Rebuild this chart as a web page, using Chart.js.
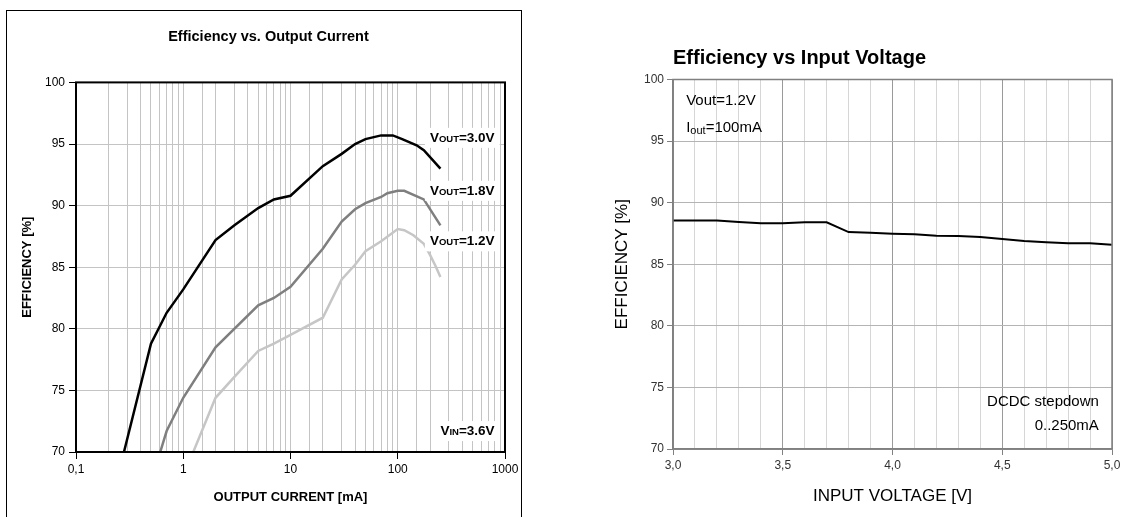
<!DOCTYPE html>
<html><head><meta charset="utf-8">
<script src="https://cdn.jsdelivr.net/npm/chart.js@4"></script>
<style>
html,body{margin:0;padding:0;background:#fff;width:1133px;height:517px;overflow:hidden}
#frame{position:absolute;left:6px;top:10px;width:516px;height:530px;border:1px solid #000;box-sizing:border-box}
#w1{position:absolute;left:0;top:0;width:540px;height:517px}
#w2{position:absolute;left:600px;top:0;width:533px;height:517px}
</style></head>
<body>
<div id="frame"></div>
<div id="w1"><canvas id="c1"></canvas></div>
<div id="w2"><canvas id="c2"></canvas></div>
<script>
// ---- Left chart data: Efficiency vs. Output Current (VIN = 3.6 V)
const outCurrent30 = [0.28,0.5,0.7,1,2,3,5,7,10,20,30,40,50,70,90,110,150,175,250];
const eff30        = [70,78.8,81.3,83.2,87.2,88.4,89.8,90.5,90.8,93.2,94.2,95.0,95.4,95.7,95.7,95.4,94.9,94.5,93.0];
const outCurrent18 = [0.61,0.7,1,2,5,7,10,20,30,40,50,70,80,100,115,175,250];
const eff18        = [70,71.7,74.4,78.5,81.9,82.5,83.4,86.5,88.7,89.7,90.2,90.7,91.0,91.2,91.2,90.5,88.4];
const outCurrent12 = [1.24,2,3,5,7,10,20,30,40,50,70,100,115,140,175,200,225,250];
const eff12        = [70,74.4,76.1,78.2,78.8,79.5,80.9,84.0,85.2,86.3,87.1,88.1,88.0,87.6,86.9,86.0,85.1,84.2];
const currentTickLabels = ['0,1','1','10','100','1000'];
const effTicks = [70,75,80,85,90,95,100];

// ---- Right chart data: Efficiency vs Input Voltage (Vout=1.2V, Iout=100mA)
const inputVoltage = [3.0,3.1,3.2,3.3,3.4,3.5,3.6,3.7,3.8,3.9,4.0,4.1,4.2,4.3,4.4,4.5,4.6,4.7,4.8,4.9,5.0];
const effVin       = [88.55,88.55,88.55,88.43,88.32,88.32,88.4,88.4,87.61,87.56,87.48,87.43,87.32,87.3,87.21,87.05,86.89,86.78,86.7,86.7,86.59];
const voltageTickLabels = ['3,0','3,5','4,0','4,5','5,0'];

const FN = "'Liberation Sans Narrow','Arial Narrow','Liberation Sans',Arial,sans-serif";
const FA = "'Liberation Sans',Arial,sans-serif";

function isDecade(v){const l=Math.log10(v);return Math.abs(l-Math.round(l))<1e-9;}
function decadeLabel(v){const i=Math.round(Math.log10(v))+1;return currentTickLabels[i]!==undefined?currentTickLabels[i]:'';}
function isHalf(v){return Math.round(v*10)%5===0;}
function halfLabel(v){const i=Math.round((v-3)*2);return voltageTickLabels[i]!==undefined?voltageTickLabels[i]:'';}

function drawRich(ctx, parts, x, y, align, weight, bg){
  let w=0;
  parts.forEach(p=>{ctx.font=`${weight} ${p[1]}px ${FN}`;p.w=ctx.measureText(p[0]).width;w+=p.w;});
  let sx = align==='right'? x-w : x;
  if(bg){ctx.fillStyle='#fff';ctx.fillRect(sx-5,y-10,w+10,20);}
  ctx.fillStyle='#000';ctx.textBaseline='middle';ctx.textAlign='left';
  parts.forEach(p=>{ctx.font=`${weight} ${p[1]}px ${FN}`;ctx.fillText(p[0],sx,y+(p[2]||0));sx+=p.w;});
}

const leftNotes = [
  {parts:[['V',13.5],['OUT',9.5,1.5],['=3.0V',13.5]], x:800, y:95.5},
  {parts:[['V',13.5],['OUT',9.5,1.5],['=1.8V',13.5]], x:800, y:91.2},
  {parts:[['V',13.5],['OUT',9.5,1.5],['=1.2V',13.5]], x:800, y:87.1},
  {parts:[['V',13.5],['IN',9.5,1.5],['=3.6V',13.5]], x:800, y:71.7}
];
const rightNotes = [
  {parts:[['Vout=1.2V',15]], x:3.06, y:98.25, align:'left'},
  {parts:[['I',15],['out',11,3],['=100mA',15]], x:3.06, y:96.1, align:'left'},
  {parts:[['DCDC stepdown',15]], x:4.94, y:73.8, align:'right'},
  {parts:[['0..250mA',15]], x:4.94, y:71.9, align:'right'}
];

const leftDeco = {id:'leftDeco', afterDatasetsDraw(chart){
  const {ctx, chartArea:a, scales:{x,y}} = chart;
  ctx.save();
  leftNotes.forEach(n=>drawRich(ctx,n.parts,x.getPixelForValue(n.x),y.getPixelForValue(n.y),'right','bold',true));
  ctx.strokeStyle='#000';ctx.lineWidth=2;ctx.strokeRect(a.left,a.top,a.right-a.left,a.bottom-a.top);
  ctx.restore();
}};
const rightDeco = {id:'rightDeco', afterDatasetsDraw(chart){
  const {ctx, chartArea:a, scales:{x,y}} = chart;
  ctx.save();
  ctx.strokeStyle='#808080';ctx.lineWidth=1.5;ctx.strokeRect(a.left,a.top,a.right-a.left,a.bottom-a.top);
  rightNotes.forEach(n=>drawRich(ctx,n.parts,x.getPixelForValue(n.x),y.getPixelForValue(n.y),n.align,'normal',false));
  ctx.restore();
}};

const lineDs = (label, xs, ys, color, w) => ({label, data: xs.map((v,i)=>({x:v,y:ys[i]})), borderColor:color, borderWidth:w, pointRadius:0, tension:0, fill:false});

new Chart(document.getElementById('c1'), {
  type:'line',
  data:{datasets:[
    lineDs('VOUT=3.0V', outCurrent30, eff30, '#000000', 2.5),
    lineDs('VOUT=1.8V', outCurrent18, eff18, '#7f7f7f', 2.5),
    lineDs('VOUT=1.2V', outCurrent12, eff12, '#c6c6c6', 2.5)
  ]},
  options:{
    responsive:true, maintainAspectRatio:false, animation:false,
    layout:{padding:{left:32,right:35,top:0,bottom:0}},
    plugins:{legend:{display:false}, tooltip:{enabled:false},
      title:{display:true, text:'Efficiency vs. Output Current', color:'#000', font:{family:FN,size:14.5,weight:'bold'}, padding:{top:28,bottom:37}}},
    scales:{
      x:{type:'logarithmic', min:0.1, max:1000, afterFit:s=>{s.height=65;},
        grid:{color:'#c4c4c4', lineWidth:1, tickLength:7, tickColor:c=>isDecade(c.tick.value)?'#000':'rgba(0,0,0,0)'},
        border:{color:'#000', width:2},
        ticks:{color:'#000', font:{family:FA,size:12}, padding:3, autoSkip:false, maxRotation:0, callback:v=>isDecade(v)?decadeLabel(v):''},
        title:{display:true, text:'OUTPUT CURRENT [mA]', color:'#000', font:{family:FN,size:13,weight:'bold'}, padding:{top:0,bottom:12}}
      },
      y:{min:70, max:100, afterFit:s=>{s.width=44;},
        ticks:{stepSize:5, color:'#000', font:{family:FA,size:12}, padding:4, callback:v=>effTicks.includes(v)?String(v):''},
        grid:{color:'#c4c4c4', tickLength:7, tickColor:'#000'}, border:{color:'#000', width:1},
        title:{display:true, text:'EFFICIENCY [%]', color:'#000', font:{family:FN,size:13,weight:'bold'}, padding:{top:-12,bottom:0}}
      }
    }
  },
  plugins:[leftDeco]
});

new Chart(document.getElementById('c2'), {
  type:'line',
  data:{datasets:[ lineDs('Efficiency', inputVoltage, effVin, '#000000', 2) ]},
  options:{
    responsive:true, maintainAspectRatio:false, animation:false,
    layout:{padding:{left:0,right:21,top:0,bottom:0}},
    plugins:{legend:{display:false}, tooltip:{enabled:false},
      title:{display:true, fullSize:false, align:'start', text:'Efficiency vs Input Voltage', color:'#000', font:{family:FN,size:20,weight:'bold'}, padding:{top:46,bottom:9.5}}},
    scales:{
      x:{type:'linear', min:3, max:5, afterFit:s=>{s.height=68;},
        grid:{color:c=>isHalf(c.tick.value)?'#9a9a9a':'#d6d6d6', tickLength:6, tickColor:c=>isHalf(c.tick.value)?'#808080':'rgba(0,0,0,0)'},
        border:{color:'#808080', width:1.5},
        ticks:{stepSize:0.1, autoSkip:false, maxRotation:0, color:'#333', font:{family:FN,size:12}, padding:3, callback:v=>isHalf(v)?halfLabel(v):''},
        title:{display:true, text:'INPUT VOLTAGE [V]', color:'#000', font:{family:FN,size:17}, padding:{top:0,bottom:10}}
      },
      y:{min:70, max:100, afterFit:s=>{s.width=73;},
        ticks:{stepSize:5, color:'#333', font:{family:FN,size:12}, padding:3},
        grid:{color:'#b4b4b4', tickLength:6, tickColor:'#808080'}, border:{color:'#808080', width:1.5},
        title:{display:true, text:'EFFICIENCY [%]', color:'#000', font:{family:FN,size:17}, padding:{top:12,bottom:0}}
      }
    }
  },
  plugins:[rightDeco]
});
</script>
</body></html>
